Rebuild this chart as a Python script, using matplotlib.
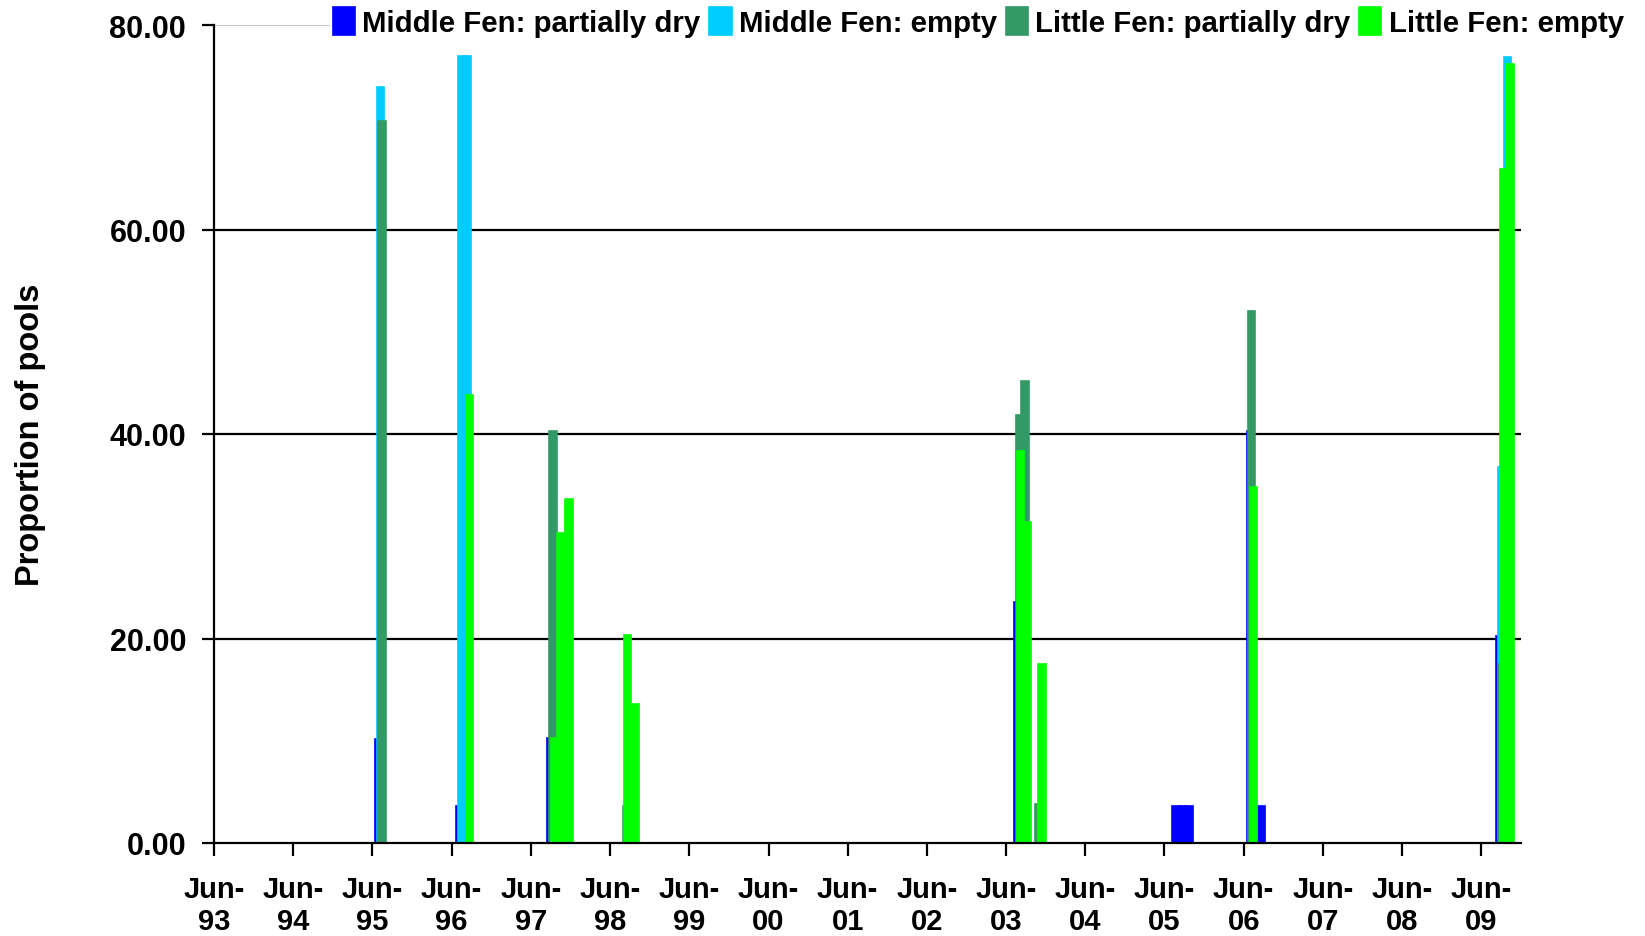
import matplotlib
matplotlib.use("Agg")
import matplotlib.pyplot as plt
import pandas as pd

# ---------------------------------------------------------
# Data: survey dates and proportion of pools (%)
# ---------------------------------------------------------
mf_partial_dates = ["1995-06-29", "1996-07-08", "1997-09-02", "2003-07-23",
                    "2005-07-24", "2005-08-23", "2005-09-22", "2006-07-01",
                    "2006-08-23", "2009-08-25"]
mf_partial_vals = [10.2, 3.6, 10.3, 23.6, 3.6, 3.6, 3.6, 40.3, 3.6, 20.2]

mf_empty_dates = ["1995-07-07", "1996-07-17", "1996-08-14", "2009-09-02",
                  "2009-09-30"]
mf_empty_vals = [73.9, 77.0, 77.0, 36.8, 76.9]

lf_partial_dates = ["1995-07-16", "1997-09-11", "1998-08-16", "2003-08-02",
                    "2003-08-28", "2003-10-31", "2006-07-08", "2009-09-04"]
lf_partial_vals = [70.6, 40.3, 3.6, 41.9, 45.2, 3.8, 52.0, 17.5]

lf_empty_dates = ["1996-08-23", "1997-09-20", "1997-10-18", "1997-11-24",
                  "1998-08-22", "1998-09-28", "2003-08-08", "2003-09-10",
                  "2003-11-14", "2006-07-17", "2009-09-13", "2009-10-11"]
lf_empty_vals = [43.8, 10.3, 30.3, 33.6, 20.3, 13.6, 38.3, 31.4, 17.5,
                 34.8, 65.9, 76.2]

tick_years = list(range(1993, 2010))
y_ticks = [0, 20, 40, 60, 80]

series = [
    ("Middle Fen: partially dry", mf_partial_dates, mf_partial_vals, "#0000FF"),
    ("Middle Fen: empty", mf_empty_dates, mf_empty_vals, "#00CCFF"),
    ("Little Fen: partially dry", lf_partial_dates, lf_partial_vals, "#339966"),
    ("Little Fen: empty", lf_empty_dates, lf_empty_vals, "#00FF00"),
]

# ---------------------------------------------------------
# Plot
# ---------------------------------------------------------
plt.rcParams["font.family"] = ["Liberation Sans", "DejaVu Sans"]
plt.rcParams["font.weight"] = "bold"

fig = plt.figure(figsize=(16.45, 9.37), dpi=100)
ax = fig.add_axes([214 / 1645, 93 / 937, 1307 / 1645, 818 / 937])

BAR_DAYS = 33
handles = []
for label, dates, vals, color in series:
    d = pd.to_datetime(dates)
    h = ax.bar(d, vals, width=BAR_DAYS, color=color, edgecolor=color,
               linewidth=1.2, label=label, zorder=3)
    handles.append(h)

for y in y_ticks[1:-1]:
    ax.axhline(y, color="black", lw=1.6, zorder=1)
ax.axhline(80, color="#c8c8c8", lw=1.6, zorder=1)

ax.set_xlim(pd.Timestamp("1993-06-01"), pd.Timestamp("2009-12-01"))
ax.set_ylim(0, 80)

ticks = [pd.Timestamp(f"{y}-06-01") for y in tick_years]
ax.set_xticks(ticks)
ax.set_xticklabels([f"Jun-\n{str(y)[2:]}" for y in tick_years],
                   fontsize=21, fontweight="bold", linespacing=1.2)
ax.set_yticks(y_ticks)
ax.set_yticklabels([f"{v:.2f}" for v in y_ticks], fontsize=22, fontweight="bold")

ax.tick_params(axis="x", direction="out", length=9, width=1.6, pad=14)
ax.tick_params(axis="y", direction="out", length=9, width=1.6, pad=11)

for s in ["top", "right"]:
    ax.spines[s].set_visible(False)
for s in ["left", "bottom"]:
    ax.spines[s].set_linewidth(1.6)
    ax.spines[s].set_zorder(4)

ax.set_ylabel("Proportion of pools", fontsize=23.5, fontweight="bold", labelpad=46)

leg = fig.legend(handles=handles, loc="center left",
                 bbox_to_anchor=(330 / 1645, 1 - 23 / 937), ncol=4,
                 fontsize=21.2, frameon=True, facecolor="white", edgecolor="none",
                 framealpha=1, handlelength=0.75, handleheight=1.1,
                 handletextpad=0.25, columnspacing=0.3, borderpad=0.1,
                 borderaxespad=0)
for t in leg.get_texts():
    t.set_fontweight("bold")

fig.savefig("out.png", dpi=100)
print("saved out.png")
